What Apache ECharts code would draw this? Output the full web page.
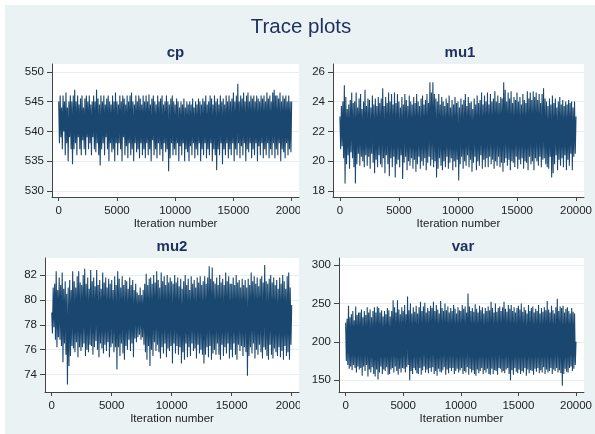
<!DOCTYPE html>
<html><head><meta charset="utf-8">
<script src="https://cdn.jsdelivr.net/npm/echarts@6/dist/echarts.min.js"></script>
<style>html,body{margin:0;padding:0;background:#fff;}#c{width:595px;height:434px;}</style>
</head><body><div id="c"></div>
<script>
// Trace values, one value every 62.5 iterations (0 .. 20000)
const cpTrace = [
545,538, 546,539, 544,537, 546,540, 545,536, 546.5,538, 544,535, 545,539, 546,537, 545,534.5,
546,537, 547,538, 545,536, 546,539, 544.5,537, 545.5,536, 546,538.5, 544,537, 545.5,536, 546,539,
545,537, 546,538, 544.5,536, 545,539, 546,537, 545,536.5, 547,538, 545.5,536, 544.5,534.3, 546,537,
545,538, 546,536, 544.5,539, 545.5,537, 546,535, 545,538, 544.5,536.5, 546,537, 545,535, 546.5,538,
545,536, 544.5,538, 546,537, 545,535, 546,539, 545.5,536, 544.5,537.5, 546,535.5, 545,538, 546,536,
546.5,537, 545,535, 544.5,538, 546,536.5, 545,537, 546,535.5, 545.5,538, 544.5,536, 546,537, 545,535.5,
546,538, 545,536, 546.2,537, 544.5,535, 545.5,538.5, 546,536, 545,537, 544.5,535.5, 546,538, 545,536,
545.5,537, 546,535, 544.5,538, 545,536.5, 546,537, 545,533.3, 544.5,535.5, 545.5,538, 546,536, 545,537,
544.5,536, 545.5,538, 545,535, 544,537.5, 545,536, 544.5,538, 545.5,535, 544,537, 545,536.5, 544.5,535,
545,537.5, 544.5,536, 545.5,538, 544,535.5, 545,537, 544.5,536, 545.5,538, 545,535, 544.5,537, 545.5,536,
545,538, 546,535.5, 544.5,537, 545,536, 546,538, 545.5,535, 544.5,537, 546,536, 545,533.5, 545.5,537,
544.5,536, 546,538, 545,534.5, 545.5,537, 544.5,536, 546,538, 545,535.5, 546,537, 545,536, 545.5,538,
546.5,535, 545,537, 546,536, 548,538, 545,535.5, 546,537.5, 545.5,536, 546.5,538, 545,535, 546,537,
546.5,536.5, 545,538, 546,535.5, 545.5,537, 546,536, 545,538, 546,535, 545.5,537.5, 545,536, 546,538,
545.5,535.5, 546,537, 545,536, 546.5,538, 545.5,535.5, 546,537, 545,536, 546.5,538, 547,535.5, 546,537,
546,536, 545.5,538, 546.5,535, 545,537, 546,536.5, 545.5,535.5, 546,538, 545,536, 546,537, 545,536.5,
545];
const mu1Trace = [
23.0,20.8, 23.7,21.0, 24.0,20.2, 25.1,18.5, 24.3,19.8, 23.5,20.4, 23.8,19.5, 24.1,20.6, 24.6,20.2, 23.9,19.6,
24.0,18.5, 24.6,19.8, 23.6,20.5, 24.2,19.7, 24.5,20.3, 23.5,20.0, 24.0,19.6, 24.8,20.4, 23.7,19.7, 24.2,20.3,
24.1,19.5, 23.6,20.5, 24.4,19.9, 23.8,19.2, 24.2,20.1, 23.7,19.6, 24.3,20.4, 23.9,19.8, 24.2,19.6, 24.9,20.2,
23.7,19.2, 24.3,20.4, 23.9,19.8, 24.6,19.0, 24.0,20.2, 24.5,19.6, 23.8,20.3, 24.6,18.9, 23.9,19.8, 24.5,20.1,
24.0,19.6, 23.6,20.4, 24.3,18.8, 23.8,19.9, 24.5,20.3, 24.1,19.4, 23.7,20.0, 24.4,19.7, 24.0,20.2, 23.8,19.5,
24.3,20.1, 23.9,19.3, 24.5,19.8, 24.0,20.3, 23.7,19.5, 24.2,20.0, 24.4,19.7, 23.8,20.2, 24.1,19.4, 24.5,19.9,
23.9,20.3, 25.3,19.7, 24.6,20.1, 25.3,19.6, 24.5,20.0, 24.2,18.9, 24.0,19.5, 24.5,20.2, 23.8,19.7, 24.3,19.4,
24.0,20.0, 23.7,19.6, 24.2,20.3, 23.9,19.5, 24.4,19.9, 23.6,20.2, 24.1,19.4, 23.8,20.0, 24.3,19.6, 23.9,20.1,
24.0,18.7, 23.6,19.8, 24.2,20.3, 23.8,19.5, 24.1,20.0, 24.5,19.7, 23.7,20.4, 24.3,19.6, 23.9,20.1, 24.0,19.3,
23.5,19.9, 24.2,20.3, 23.8,19.4, 24.4,20.0, 23.9,19.7, 24.1,20.4, 24.6,19.5, 23.8,20.1, 24.4,19.6, 24.0,20.2,
24.6,19.6, 23.8,20.3, 24.5,19.8, 24.0,20.1, 24.2,19.5, 24.7,20.0, 24.0,19.7, 24.4,20.3, 23.9,19.6, 24.3,19.9,
24.2,19.3, 25.3,19.9, 24.8,20.2, 24.0,19.7, 24.6,20.1, 24.2,19.4, 24.7,20.0, 23.9,19.9, 24.3,19.6, 24.1,20.3,
24.6,19.5, 24.0,20.1, 24.3,19.8, 23.8,20.2, 24.5,19.5, 24.1,20.0, 23.9,19.9, 24.7,19.4, 24.2,20.3, 24.6,19.8,
24.1,20.0, 24.7,19.4, 24.3,20.2, 24.6,20.0, 24.1,19.7, 24.5,20.3, 23.9,19.6, 24.5,20.1, 24.9,20.2, 24.2,19.8,
24.0,19.6, 23.7,19.5, 24.2,20.3, 23.8,18.9, 24.4,19.2, 23.9,19.8, 24.2,20.4, 23.6,19.4, 24.0,20.1, 24.3,19.7,
23.8,20.2, 24.1,19.6, 23.7,20.4, 24.0,19.4, 23.8,20.1, 24.1,19.7, 23.9,20.5, 24.0,19.4, 23.6,20.3, 24.0,20.5,
23.0];
const mu2Trace = [
79.0,77.3, 81.0,77.8, 81.3,76.8, 82.3,76.2, 80.8,77.0, 81.8,76.8, 81.2,76.3, 82.2,75.0, 80.9,76.5, 81.5,75.6,
80.5,73.2, 81.0,74.7, 81.6,75.5, 80.8,76.3, 82.3,76.1, 81.5,75.8, 81.0,76.6, 81.9,75.4, 82.3,76.2, 81.4,75.9,
81.2,76.2, 82.0,76.5, 82.5,75.5, 81.3,76.0, 81.8,75.8, 80.9,76.4, 82.4,76.3, 81.5,75.6, 81.8,76.2, 81.1,76.7,
82.4,76.0, 81.2,75.4, 81.6,76.5, 80.9,76.1, 82.2,75.7, 81.4,76.4, 81.8,75.9, 81.0,76.6, 81.7,75.4, 81.3,76.2,
81.6,76.5, 80.8,75.8, 81.9,76.2, 81.2,74.4, 82.3,76.2, 81.7,75.5, 81.0,76.5, 81.9,75.7, 81.2,75.2, 81.6,76.3,
81.5,76.0, 80.9,76.8, 81.8,75.9, 81.2,76.5, 81.6,75.4, 80.8,76.9, 81.3,76.6, 80.6,77.0, 80.4,77.2, 81.0,76.8,
80.4,77.0, 80.8,76.4, 81.3,75.8, 82.1,75.2, 81.2,76.3, 81.7,74.7, 81.8,76.0, 81.3,75.5, 82.0,76.6, 81.4,75.9,
82.3,76.4, 81.6,75.8, 81.0,75.3, 82.2,76.2, 81.5,75.7, 81.9,76.5, 81.2,75.4, 82.0,76.1, 81.4,75.9, 81.8,76.3,
81.5,74.9, 81.3,76.5, 82.0,75.7, 81.4,76.3, 81.8,75.6, 81.1,76.2, 81.7,74.9, 80.9,75.8, 81.5,75.2, 82.0,76.5,
81.2,75.4, 81.7,76.2, 80.8,75.5, 81.9,76.5, 81.3,75.9, 81.6,76.1, 81.0,75.3, 81.8,76.4, 81.4,75.7, 81.9,76.0,
81.2,75.6, 81.5,74.9, 81.9,75.6, 81.3,76.2, 81.8,75.4, 82.7,76.3, 81.7,75.2, 82.6,75.7, 81.5,76.0, 81.3,75.6,
81.8,76.5, 81.2,75.6, 82.0,75.2, 81.4,76.4, 81.7,75.5, 81.2,76.2, 82.2,75.7, 81.5,76.5, 81.9,75.3, 81.3,76.0,
81.3,75.4, 81.8,76.5, 81.2,75.6, 82.0,75.2, 81.4,76.4, 81.6,75.9, 81.0,76.3, 81.7,75.5, 81.2,76.2, 81.6,75.8,
81.0,73.9, 81.7,75.5, 81.2,76.2, 82.2,75.7, 81.5,76.5, 81.9,75.3, 81.3,76.0, 81.8,75.6, 81.1,76.4, 81.7,75.8,
81.9,75.3, 81.4,76.2, 82.8,76.0, 81.5,75.5, 81.3,75.2, 81.7,76.4, 82.0,75.6, 81.4,75.3, 81.8,76.1, 81.2,75.8,
81.6,75.5, 80.9,76.2, 81.8,75.4, 81.3,75.9, 82.0,75.2, 81.5,76.3, 80.9,75.5, 81.9,75.8, 82.2,75.2, 81.0,76.4,
79.6];
const varTrace = [
225,175, 230,170, 247,165, 232,168, 236,163, 240,170, 228,166, 246,160, 235,168, 238,164,
238,166, 242,156, 232,168, 240,162, 235,170, 245,155, 238,164, 242,160, 232,167, 240,158,
245,155, 238,164, 246,151, 244,160, 238,168, 241,158, 233,164, 240,162, 236,167, 244,157,
241,158, 233,164, 240,166, 254,160, 245,168, 238,162, 254,157, 242,165, 236,160, 245,166,
240,165, 248,160, 236,167, 259,170, 241,150, 250,162, 237,158, 245,166, 239,163, 247,159,
237,158, 245,166, 252,157, 240,163, 246,168, 251,160, 238,164, 244,159, 240,166, 247,161,
244,167, 252,158, 240,162, 248,156, 242,165, 237,161, 253,160, 244,163, 240,167, 250,157,
241,164, 246,159, 238,166, 244,162, 240,166, 248,158, 243,162, 237,165, 245,160, 241,163,
240,166, 248,158, 243,162, 246,160, 238,167, 263,157, 246,165, 240,160, 244,163, 239,158,
249,156, 243,164, 238,159, 247,162, 241,166, 245,158, 237,163, 244,160, 240,165, 246,158,
241,157, 252,165, 244,158, 238,163, 250,162, 239,157, 244,166, 246,165, 240,160, 245,162,
252,159, 243,164, 239,166, 248,158, 243,150, 248,163, 240,157, 245,166, 238,161, 244,159,
247,164, 242,158, 250,162, 239,160, 245,166, 241,156, 237,164, 248,159, 240,163, 244,162,
246,157, 238,165, 243,161, 240,166, 248,159, 237,163, 244,160, 239,167, 245,158, 241,164,
253,160, 242,162, 238,166, 247,158, 241,164, 237,162, 245,166, 256,160, 240,163, 246,159,
244,143, 247,158, 238,165, 243,161, 245,160, 240,166, 237,168, 244,162, 239,165, 237,170,
200];
const iterStep = 62.5;
const xTicks = [0, 5000, 10000, 15000, 20000];
const cpTicks = [530, 535, 540, 545, 550];
const mu1Ticks = [18, 20, 22, 24, 26];
const mu2Ticks = [74, 76, 78, 80, 82];
const varTicks = [150, 200, 250, 300];
const panelNames = ['cp', 'mu1', 'mu2', 'var'];

const FONT = 'Liberation Sans, Arial, sans-serif';
const BG = '#EAF2F3';
const LINE = '#1A476F';

const panels = [
  {name: panelNames[0], trace: cpTrace, ticks: cpTicks, grid: {left: 52, top: 64, width: 247, height: 133}, x: [-575, 20630], y: [529, 551.3]},
  {name: panelNames[1], trace: mu1Trace, ticks: mu1Ticks, grid: {left: 333, top: 64, width: 254, height: 133}, x: [-586, 20670], y: [17.6, 26.52]},
  {name: panelNames[2], trace: mu2Trace, ticks: mu2Ticks, grid: {left: 45, top: 258, width: 254, height: 134}, x: [-558, 20608], y: [72.6, 83.37]},
  {name: panelNames[3], trace: varTrace, ticks: varTicks, grid: {left: 339, top: 258, width: 248, height: 134}, x: [-575, 20687], y: [134.7, 309.1]}
];

const plain = v => String(v);
const grids = [], xAxes = [], yAxes = [], series = [];
const titles = [{
  text: 'Trace plots', left: 301, top: 17, textAlign: 'center', padding: 0,
  textStyle: {fontSize: 20.5, fontWeight: 'normal', color: '#1e2f5e', fontFamily: FONT}
}];
panels.forEach((p, i) => {
  grids.push(Object.assign({show: true, backgroundColor: '#ffffff', borderWidth: 0, containLabel: false}, p.grid));
  titles.push({
    text: p.name, left: p.grid.left + p.grid.width / 2, top: p.grid.top - 19, textAlign: 'center', padding: 0,
    textStyle: {fontSize: 15, fontWeight: 'bold', color: '#1e2f5e', fontFamily: FONT}
  });
  xAxes.push({
    type: 'value', gridIndex: i, min: p.x[0], max: p.x[1],
    name: 'Iteration number', nameLocation: 'middle', nameGap: 19,
    nameTextStyle: {fontSize: 11.5, color: '#222', fontFamily: FONT},
    axisLine: {show: true, onZero: false, lineStyle: {color: '#444', width: 1}},
    axisTick: {show: true, length: 4, customValues: xTicks, lineStyle: {color: '#444'}},
    axisLabel: {customValues: xTicks, formatter: plain, margin: 8, fontSize: 11.5, color: '#222', fontFamily: FONT},
    splitLine: {show: false}
  });
  yAxes.push({
    type: 'value', gridIndex: i, min: p.y[0], max: p.y[1],
    axisLine: {show: true, onZero: false, lineStyle: {color: '#444', width: 1}},
    axisTick: {show: true, length: 5, customValues: p.ticks, lineStyle: {color: '#444'}},
    axisLabel: {customValues: p.ticks, formatter: plain, margin: 8, fontSize: 11.5, color: '#222', fontFamily: FONT},
    splitLine: {show: true, lineStyle: {color: '#E6EEF0', width: 1}}
  });
  series.push({
    type: 'line', xAxisIndex: i, yAxisIndex: i, symbol: 'none', showSymbol: false,
    lineStyle: {color: LINE, width: 1.1}, itemStyle: {color: LINE},
    data: p.trace.map((v, k) => [k * iterStep, v]), animation: false, silent: true, clip: true
  });
});

const chart = echarts.init(document.getElementById('c'), null, {renderer: 'canvas'});
chart.setOption({
  animation: false,
  backgroundColor: '#ffffff',
  graphic: [
    {type: 'rect', shape: {x: 5, y: 5, width: 590, height: 429}, style: {fill: BG}, z: -10, silent: true},
    {type: 'rect', shape: {x: 300, y: 198, width: 32, height: 24}, style: {fill: BG}, z: 100, silent: true},
    {type: 'rect', shape: {x: 300, y: 393, width: 38, height: 24}, style: {fill: BG}, z: 100, silent: true}
  ],
  title: titles,
  grid: grids,
  xAxis: xAxes,
  yAxis: yAxes,
  series: series
});
</script></body></html>
